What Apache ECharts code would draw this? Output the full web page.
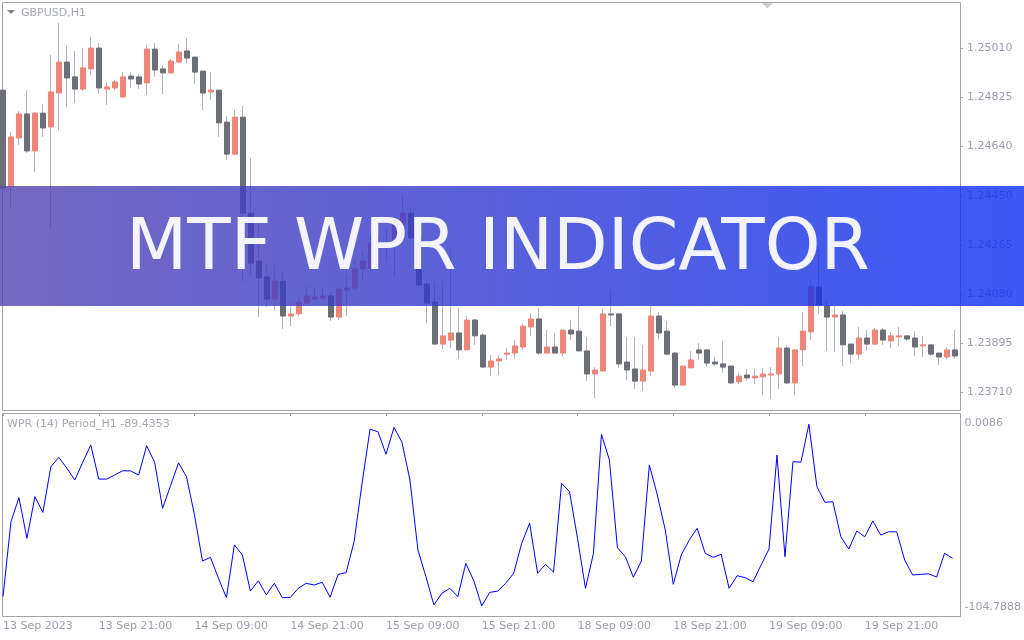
<!DOCTYPE html>
<html><head><meta charset="utf-8">
<script src="https://cdn.jsdelivr.net/npm/echarts@6/dist/echarts.min.js"></script>
<style>html,body{margin:0;padding:0;background:#fff}#c{width:1024px;height:640px}</style>
</head><body><div id="c"></div>
<script>
const symbolLabel = 'GBPUSD,H1';
const wprLabel = 'WPR (14) Period_H1 -89.4353';
const bannerText = 'MTF WPR INDICATOR';
const timeTickLabels = ['13 Sep 2023','13 Sep 21:00','14 Sep 09:00','14 Sep 21:00','15 Sep 09:00','15 Sep 21:00','18 Sep 09:00','18 Sep 21:00','19 Sep 09:00','19 Sep 21:00'];
const priceTicks = [1.25010,1.24825,1.24640,1.24450,1.24265,1.24080,1.23895,1.23710];
const wprTicks = [0.0086,-104.7888];
const priceMin = 1.236428, priceMax = 1.251813;

const open = [1.24852,1.24486,1.24671,1.24762,1.24622,1.24765,1.24713,1.24841,1.24958,1.24902,
1.24856,1.24932,1.25011,1.24856,1.24860,1.24826,1.24905,1.24902,1.24879,1.25007,
1.24932,1.24917,1.24958,1.25000,1.24977,1.24924,1.24845,1.24852,1.24731,1.24610,
1.24750,1.24387,1.24206,1.24146,1.24062,1.24130,1.23998,1.24006,1.24047,1.24062,
1.24066,1.24074,1.23994,1.24096,1.24104,1.24176,1.24180,1.24274,1.24267,1.24263,
1.24342,1.24387,1.24301,1.24119,1.24051,1.23892,1.23907,1.23934,1.23870,1.23983,
1.23926,1.23805,1.23828,1.23854,1.23858,1.23881,1.23957,1.23987,1.23858,1.23881,
1.23858,1.23945,1.23941,1.23866,1.23779,1.23790,1.24006,1.24006,1.23824,1.23798,
1.23752,1.23790,1.23998,1.23941,1.23858,1.23737,1.23802,1.23870,1.23870,1.23824,
1.23817,1.23809,1.23749,1.23775,1.23764,1.23768,1.23775,1.23779,1.23877,1.23745,
1.23870,1.23938,1.24108,1.24036,1.23994,1.24002,1.23892,1.23854,1.23915,1.23892,
1.23945,1.23904,1.23919,1.23923,1.23915,1.23885,1.23889,1.23858,1.23843,1.23870];
const high = [1.24860,1.24694,1.24773,1.24852,1.24769,1.24799,1.24985,1.25106,1.25019,1.25000,
1.25011,1.25053,1.25030,1.24883,1.24890,1.24920,1.24920,1.24913,1.25023,1.25030,
1.24947,1.24970,1.25026,1.25049,1.24977,1.24924,1.24920,1.24852,1.24754,1.24777,
1.24792,1.24595,1.24353,1.24191,1.24191,1.24164,1.24051,1.24070,1.24112,1.24104,
1.24108,1.24089,1.24108,1.24157,1.24210,1.24244,1.24304,1.24301,1.24327,1.24376,
1.24459,1.24406,1.24323,1.24134,1.24127,1.24130,1.24251,1.24028,1.23998,1.23987,
1.23934,1.23851,1.23847,1.23877,1.23907,1.23968,1.24009,1.24028,1.23945,1.23934,
1.23945,1.23983,1.24036,1.23919,1.23805,1.24025,1.24096,1.24009,1.23919,1.23919,
1.23889,1.24036,1.24013,1.23979,1.23862,1.23809,1.23866,1.23896,1.23870,1.23843,
1.23904,1.23809,1.23783,1.23798,1.23798,1.23802,1.23805,1.23919,1.23889,1.23870,
1.24013,1.24134,1.24259,1.24055,1.24036,1.24017,1.23892,1.23957,1.23945,1.23953,
1.23953,1.23938,1.23957,1.23926,1.23941,1.23923,1.23889,1.23858,1.23881,1.23945];
const low = [1.24467,1.24403,1.24645,1.24614,1.24542,1.24675,1.24327,1.24701,1.24788,1.24803,
1.24849,1.24909,1.24837,1.24796,1.24852,1.24822,1.24860,1.24856,1.24834,1.24902,
1.24837,1.24913,1.24954,1.24954,1.24875,1.24777,1.24815,1.24675,1.24588,1.24607,
1.24127,1.24153,1.23994,1.24032,1.24021,1.23949,1.23960,1.23998,1.24040,1.24055,
1.24059,1.23979,1.23983,1.23998,1.24096,1.24134,1.24164,1.24198,1.24202,1.24146,
1.24331,1.24285,1.24104,1.23972,1.23889,1.23873,1.23877,1.23836,1.23870,1.23889,
1.23802,1.23771,1.23775,1.23832,1.23836,1.23870,1.23923,1.23851,1.23858,1.23858,
1.23847,1.23907,1.23866,1.23752,1.23688,1.23790,1.23960,1.23802,1.23756,1.23722,
1.23715,1.23771,1.23911,1.23851,1.23726,1.23737,1.23802,1.23832,1.23805,1.23809,
1.23783,1.23741,1.23741,1.23752,1.23741,1.23700,1.23684,1.23722,1.23741,1.23700,
1.23809,1.23907,1.24006,1.23866,1.23862,1.23809,1.23820,1.23836,1.23866,1.23889,
1.23889,1.23877,1.23885,1.23904,1.23847,1.23843,1.23847,1.23813,1.23836,1.23836];
const close = [1.24482,1.24675,1.24762,1.24622,1.24765,1.24709,1.24845,1.24958,1.24898,1.24856,
1.24936,1.25011,1.24860,1.24864,1.24883,1.24902,1.24894,1.24875,1.25007,1.24928,
1.24917,1.24962,1.24996,1.24973,1.24920,1.24841,1.24852,1.24728,1.24610,1.24750,
1.24387,1.24198,1.24142,1.24062,1.24130,1.23998,1.24006,1.24051,1.24074,1.24070,
1.24074,1.23994,1.24100,1.24104,1.24176,1.24206,1.24274,1.24263,1.24259,1.24350,
1.24387,1.24293,1.24115,1.24047,1.23892,1.23923,1.23934,1.23870,1.23983,1.23923,
1.23805,1.23828,1.23836,1.23858,1.23885,1.23960,1.23987,1.23858,1.23881,1.23858,
1.23945,1.23930,1.23866,1.23779,1.23794,1.24006,1.24002,1.23817,1.23794,1.23752,
1.23794,1.23998,1.23934,1.23854,1.23737,1.23809,1.23832,1.23858,1.23820,1.23817,
1.23805,1.23745,1.23771,1.23764,1.23771,1.23779,1.23779,1.23877,1.23745,1.23870,
1.23941,1.24108,1.24040,1.23994,1.24002,1.23889,1.23854,1.23915,1.23892,1.23945,
1.23907,1.23923,1.23923,1.23911,1.23881,1.23889,1.23854,1.23843,1.23870,1.23847];
const wpr = [-94.8,-56.1,-43.7,-64.7,-43.2,-51.3,-27.7,-22.9,-28.5,-34.6,
-25.4,-16.5,-34.1,-34.1,-32.0,-29.8,-29.9,-32.0,-16.9,-25.4,
-49.2,-37.5,-25.7,-32.9,-52.7,-76.4,-74.5,-85.3,-95.3,-68.1,
-73.3,-91.9,-86.6,-93.9,-87.9,-95.3,-95.3,-90.5,-87.9,-88.8,
-87.4,-95.1,-83.3,-82.4,-66.4,-36.3,-8.3,-9.7,-21.3,-7.4,
-15.1,-34.6,-70.7,-84.5,-99.1,-93.1,-90.5,-94.8,-77.6,-86.6,
-99.6,-92.6,-91.9,-87.9,-82.7,-67.3,-56.9,-82.7,-78.1,-82.2,
-36.3,-40.6,-64.7,-90.5,-72.4,-11.0,-24.3,-69.5,-74.2,-84.8,
-76.4,-26.8,-42.3,-60.4,-88.4,-73.3,-65.6,-59.5,-72.4,-74.5,
-72.9,-90.5,-84.0,-85.0,-87.1,-78.5,-70.2,-21.7,-74.2,-25.1,
-25.4,-5.8,-38.0,-46.1,-45.8,-63.9,-70.2,-60.9,-63.9,-55.7,
-63.0,-61.3,-61.3,-75.9,-83.6,-83.3,-83.0,-84.7,-72.4,-75.0];

// hourly bar times (weekends skipped), starting 13 Sep 2023 09:00
const months = 'Jan Feb Mar Apr May Jun Jul Aug Sep Oct Nov Dec'.split(' ');
const barTimes = [];
for (let t = Date.UTC(2023, 8, 13, 9); barTimes.length < open.length; t += 3600000) {
  const d = new Date(t), wd = d.getUTCDay();
  if (wd === 0 || wd === 6) continue;
  barTimes.push(d.getUTCDate() + ' ' + months[d.getUTCMonth()] + ' ' + String(d.getUTCHours()).padStart(2, '0') + ':00');
}

const upColor = '#ef8576', downColor = '#6b6f77', wickColor = '#b3b4c0';
const labelColor = '#9d9eac', frameColor = '#a4a4a4';
const font = 'DejaVu Sans';

const chart = echarts.init(document.getElementById('c'), null, {renderer: 'canvas', width: 1024, height: 640});
chart.setOption({
  animation: false,
  backgroundColor: '#ffffff',
  grid: [
    {left: 3, top: 3, width: 952, height: 407},
    {left: 3, top: 413, width: 952, height: 203}
  ],
  xAxis: [
    {type: 'category', gridIndex: 0, data: barTimes, boundaryGap: false, show: false},
    {type: 'category', gridIndex: 1, data: barTimes, boundaryGap: false,
     axisLine: {show: false},
     axisTick: {show: true, interval: 11, length: 3, lineStyle: {color: frameColor}},
     axisLabel: {interval: 11, align: 'left', margin: 5, color: labelColor, fontFamily: font, fontSize: 11,
       formatter: (v, i) => timeTickLabels[Math.round(i / 12)] || ''},
     splitLine: {show: false}}
  ],
  yAxis: [
    {type: 'value', gridIndex: 0, position: 'right', offset: 5, min: priceMin, max: priceMax,
     axisLine: {show: false}, splitLine: {show: false},
     axisTick: {show: true, length: 3, customValues: priceTicks, lineStyle: {color: frameColor}},
     axisLabel: {customValues: priceTicks, margin: 7, color: labelColor, fontFamily: font, fontSize: 11,
       formatter: v => v.toFixed(5)}},
    {type: 'value', gridIndex: 1, position: 'right', offset: 5, min: wprTicks[1], max: wprTicks[0],
     axisLine: {show: false}, splitLine: {show: false},
     axisTick: {show: true, length: 3, customValues: wprTicks, lineStyle: {color: frameColor}},
     axisLabel: {customValues: wprTicks, margin: 7, color: labelColor, fontFamily: font, fontSize: 11,
       formatter: v => (v > -50 ? '{t|' : '{b|') + v.toFixed(4) + '}',
       rich: {
         t: {lineHeight: 31, verticalAlign: 'bottom', color: labelColor, fontFamily: font, fontSize: 11},
         b: {lineHeight: 29, verticalAlign: 'top', color: labelColor, fontFamily: font, fontSize: 11}
       }}}
  ],
  series: [
    {type: 'candlestick', xAxisIndex: 0, yAxisIndex: 0, barWidth: 1, clip: false, z: 2,
     data: low.map((l, i) => [l, high[i], l, high[i]]),
     itemStyle: {color: wickColor, color0: wickColor, borderColor: wickColor, borderColor0: wickColor, borderWidth: 1}},
    {type: 'candlestick', xAxisIndex: 0, yAxisIndex: 0, barWidth: 6, clip: false, z: 3,
     data: open.map((o, i) => [o, close[i], Math.min(o, close[i]), Math.max(o, close[i])]),
     itemStyle: {color: upColor, color0: downColor, borderColor: upColor, borderColor0: downColor, borderWidth: 1}},
    {type: 'line', xAxisIndex: 1, yAxisIndex: 1, data: wpr, symbol: 'none', z: 3,
     lineStyle: {color: '#0000ff', width: 1}}
  ],
  graphic: [
    {type: 'rect', silent: true, z: 1, shape: {x: 2.5, y: 2.5, width: 958, height: 408},
     style: {fill: null, stroke: frameColor, lineWidth: 1}},
    {type: 'rect', silent: true, z: 1, shape: {x: 2.5, y: 413.5, width: 958, height: 203},
     style: {fill: null, stroke: frameColor, lineWidth: 1}},
    {type: 'polygon', silent: true, z: 10, shape: {points: [[7, 10], [15, 10], [11, 14]]}, style: {fill: '#7b7f8e'}},
    {type: 'text', silent: true, z: 10, x: 21, y: 13,
     style: {text: symbolLabel, fill: '#a3a6b4', font: '11px "DejaVu Sans"', verticalAlign: 'middle'}},
    {type: 'polygon', silent: true, z: 10, shape: {points: [[762, 3], [773, 3], [767.5, 8.5]]}, style: {fill: '#cdced6'}},
    {type: 'text', silent: true, z: 10, x: 7, y: 424,
     style: {text: wprLabel, fill: '#a8a8b2', font: '11px "DejaVu Sans"', verticalAlign: 'middle'}},
    {type: 'rect', silent: true, z: 100, shape: {x: 0, y: 186, width: 1024, height: 120},
     style: {fill: new echarts.graphic.LinearGradient(0, 0, 1, 0, [
       {offset: 0, color: 'rgba(82,66,176,0.8)'}, {offset: 1, color: 'rgba(9,46,243,0.8)'}])}},
    {type: 'text', silent: true, z: 101, x: 498, y: 251,
     style: {text: bannerText, fill: 'rgba(255,255,255,0.93)', font: '71px "DejaVu Sans"', align: 'center', verticalAlign: 'middle'}}
  ]
});
</script>
</body></html>
